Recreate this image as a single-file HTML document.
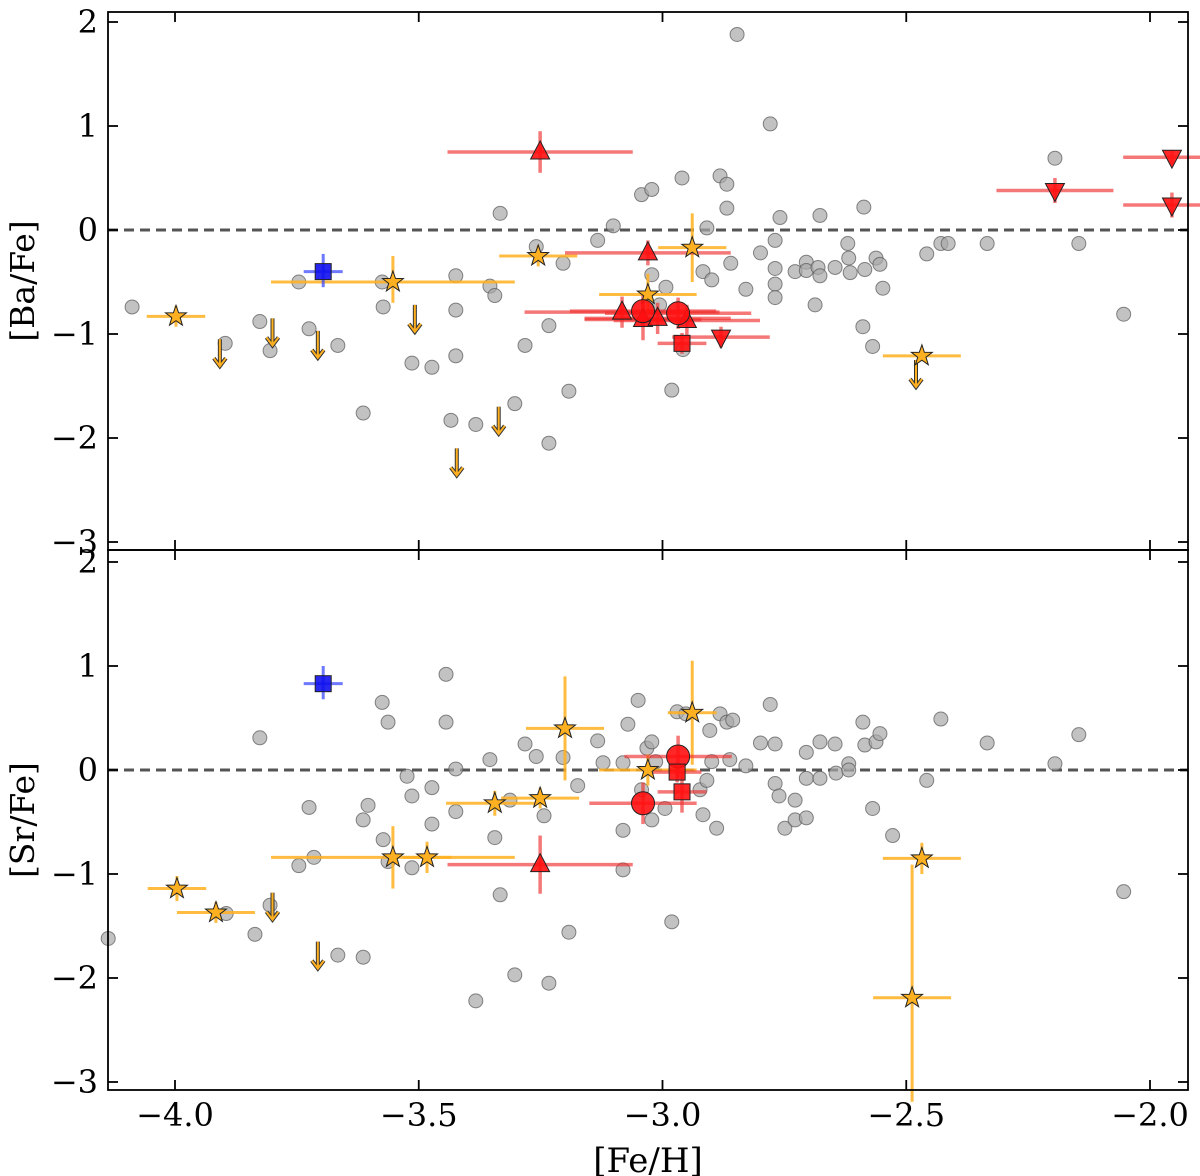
<!DOCTYPE html>
<html><head><meta charset="utf-8"><style>
body{margin:0;background:#fff}
svg{display:block;font-family:"DejaVu Serif","Liberation Serif",serif}
</style></head><body>
<svg id="chart" width="1200" height="1176" viewBox="0 0 1200 1176" xmlns="http://www.w3.org/2000/svg"></svg>
<script>
// ---- data ----
const grayBaX=[-4.088,-3.897,-3.826,-3.805,-3.746,-3.725,-3.666,-3.614,-3.575,-3.573,-3.514,-3.473,-3.424,-3.424,-3.424,-3.434,-3.383,-3.354,-3.344,-3.333,-3.303,-3.282,-3.259,-3.233,-3.233,-3.204,-3.192,-3.133,-3.101,-3.043,-3.022,-3.022,-3.006,-2.993,-2.981,-2.960,-2.958,-2.917,-2.899,-2.909,-2.882,-2.868,-2.868,-2.860,-2.847,-2.829,-2.799,-2.779,-2.769,-2.769,-2.769,-2.769,-2.759,-2.728,-2.705,-2.705,-2.681,-2.677,-2.687,-2.677,-2.646,-2.620,-2.618,-2.615,-2.585,-2.587,-2.589,-2.569,-2.562,-2.554,-2.548,-2.458,-2.429,-2.414,-2.334,-2.195,-2.146,-2.054];
const grayBaY=[-0.74,-1.09,-0.88,-1.16,-0.50,-0.95,-1.11,-1.76,-0.50,-0.74,-1.28,-1.32,-0.44,-0.77,-1.21,-1.83,-1.87,-0.54,-0.63,0.16,-1.67,-1.11,-0.16,-2.05,-0.92,-0.32,-1.55,-0.10,0.04,0.34,0.39,-0.43,-0.72,-0.55,-1.54,0.50,-1.15,-0.40,-0.48,0.02,0.52,0.44,0.21,-0.32,1.88,-0.57,-0.22,1.02,-0.10,-0.37,-0.52,-0.65,0.12,-0.40,-0.31,-0.39,-0.36,-0.44,-0.72,0.14,-0.36,-0.13,-0.27,-0.41,-0.38,0.22,-0.93,-1.12,-0.27,-0.33,-0.56,-0.23,-0.13,-0.13,-0.13,0.69,-0.13,-0.81];
const graySrX=[-4.137,-3.895,-3.836,-3.826,-3.805,-3.746,-3.725,-3.715,-3.666,-3.614,-3.604,-3.614,-3.575,-3.563,-3.573,-3.563,-3.524,-3.514,-3.514,-3.473,-3.473,-3.444,-3.444,-3.424,-3.424,-3.383,-3.354,-3.344,-3.333,-3.313,-3.303,-3.282,-3.259,-3.243,-3.233,-3.204,-3.192,-3.174,-3.133,-3.122,-3.081,-3.081,-3.081,-3.071,-3.050,-3.043,-3.032,-3.022,-3.022,-3.014,-2.995,-2.981,-2.970,-2.952,-2.923,-2.917,-2.909,-2.899,-2.889,-2.882,-2.868,-2.856,-2.903,-2.862,-2.829,-2.799,-2.779,-2.769,-2.769,-2.761,-2.749,-2.728,-2.728,-2.705,-2.705,-2.705,-2.677,-2.677,-2.646,-2.644,-2.618,-2.618,-2.589,-2.585,-2.569,-2.562,-2.554,-2.528,-2.458,-2.429,-2.334,-2.195,-2.146,-2.054];
const graySrY=[-1.62,-1.38,-1.58,0.31,-1.30,-0.92,-0.36,-0.84,-1.78,-0.48,-0.34,-1.80,0.65,0.46,-0.67,-0.88,-0.06,-0.25,-0.94,-0.17,-0.52,0.92,0.46,0.01,-0.40,-2.22,0.10,-0.65,-1.20,-0.29,-1.97,0.25,0.13,-0.44,-2.05,0.12,-1.56,-0.15,0.28,0.07,0.07,-0.58,-0.96,0.44,0.67,-0.19,0.21,0.27,-0.48,0.08,-0.37,-1.46,0.56,0.54,-0.19,-0.43,-0.10,0.08,-0.56,0.54,0.46,0.48,0.38,0.10,0.04,0.26,0.63,0.25,-0.13,-0.25,-0.56,-0.29,-0.48,0.17,-0.08,-0.46,-0.08,0.27,0.25,-0.03,0.06,0.00,0.46,0.24,-0.37,0.27,0.35,-0.63,-0.10,0.49,0.26,0.06,0.34,-1.17];
// stars: x, y, xerr-, xerr+, yerr-, yerr+
const starBa=[[-3.998,-0.83,0.06,0.06,0.1,0.1],[-3.553,-0.50,0.25,0.25,0.2,0.25],[-3.255,-0.25,0.08,0.08,0.1,0.1],[-3.030,-0.62,0.1,0.1,0.2,0.2],[-2.939,-0.17,0.07,0.07,0.33,0.33],[-2.468,-1.21,0.08,0.08,0.05,0.05]];
const starSr=[[-3.996,-1.14,0.06,0.06,0.12,0.12],[-3.916,-1.37,0.08,0.08,0.1,0.1],[-3.553,-0.84,0.25,0.25,0.3,0.3],[-3.483,-0.84,0.05,0.05,0.15,0.15],[-3.344,-0.32,0.1,0.1,0.12,0.12],[-3.251,-0.27,0.08,0.08,0.1,0.1],[-3.200,0.40,0.08,0.08,0.5,0.5],[-3.030,0.00,0.1,0.1,0.15,0.15],[-2.939,0.55,0.05,0.05,0.5,0.5],[-2.468,-0.85,0.08,0.08,0.15,0.15],[-2.488,-2.19,0.08,0.08,1.0,1.28]];
const limBa=[[-3.908,-1.05],[-3.800,-0.85],[-3.707,-0.97],[-3.508,-0.72],[-3.336,-1.70],[-3.422,-2.10],[-2.480,-1.25]];
const limSr=[[-3.800,-1.18],[-3.707,-1.65]];
// red: type, x, y, xerr, yerr
const redBa=[["tu",-3.251,0.75,0.19,0.2],["tu",-3.030,-0.22,0.17,0.12],["tu",-3.083,-0.79,0.2,0.15],["tu",-3.040,-0.86,0.12,0.2],["tu",-3.010,-0.85,0.15,0.15],["tu",-2.950,-0.87,0.15,0.15],["c",-3.040,-0.78,0.15,0.15],["c",-2.968,-0.80,0.15,0.15],["s",-2.960,-1.09,0.05,0.1],["td",-2.880,-1.03,0.1,0.1],["td",-2.195,0.38,0.12,0.12],["td",-1.955,0.70,0.1,0.07],["td",-1.955,0.24,0.1,0.12]];
const redSr=[["tu",-3.251,-0.91,0.19,0.28],["c",-3.040,-0.32,0.11,0.2],["c",-2.968,0.13,0.11,0.2],["s",-2.960,-0.21,0.05,0.2],["s",-2.970,-0.02,0.05,0.1]];
const blueBa=[-3.696,-0.40];
const blueSr=[-3.696,0.83];
const xTicks=[-4.0,-3.5,-3.0,-2.5,-2.0];
const xTickLabels=["\u22124.0","\u22123.5","\u22123.0","\u22122.5","\u22122.0"];
const yTicks=[2,1,0,-1,-2,-3];
const yTickLabels=["2","1","0","\u22121","\u22122","\u22123"];

const NS="http://www.w3.org/2000/svg";
const svg=document.getElementById('chart');
const L=108,R=1188;
const X=v=>175+(v+4)*487.5;
function mk(tag,at,parent){const e=document.createElementNS(NS,tag);for(const k in at)e.setAttribute(k,at[k]);(parent||svg).appendChild(e);return e;}

function panel(name,top,bottom,Y,gx,gy,stars,lims,reds,blue,ylab){
  const g=mk('g',{});
  
  
  const z=mk('line',{x1:L,x2:R,y1:Y(0),y2:Y(0),stroke:'#555','stroke-width':3,'stroke-dasharray':'10,6'},g);
  
  
  for(let i=0;i<gx.length;i++){
    const c=mk('circle',{cx:X(gx[i]),cy:Y(gy[i]),r:7,fill:'#a8a8a8','fill-opacity':0.7,stroke:'#555','stroke-opacity':0.7,'stroke-width':1},g);
    
    
  }
  for(const s of stars){
    const e=mk('g',{stroke:'#ffb020','stroke-opacity':0.85,'stroke-width':3},g);
    
    
    mk('line',{x1:X(s[0]-s[2]),x2:X(s[0]+s[3]),y1:Y(s[1]),y2:Y(s[1])},e);
    mk('line',{x1:X(s[0]),x2:X(s[0]),y1:Y(s[1]-s[4]),y2:Y(s[1]+s[5])},e);
  }
  for(const r of reds){
    const e=mk('g',{stroke:'#f03030','stroke-opacity':0.65,'stroke-width':3.5},g);
    
    
    mk('line',{x1:X(r[1]-r[3]),x2:X(r[1]+r[3]),y1:Y(r[2]),y2:Y(r[2])},e);
    mk('line',{x1:X(r[1]),x2:X(r[1]),y1:Y(r[2]-r[4]),y2:Y(r[2]+r[4])},e);
  }
  for(const a of lims){
    const x=X(a[0]),y=Y(a[1]);
    const p=mk('path',{d:`M${x} ${y}V${y+26}M${x-6} ${y+19}L${x} ${y+27}L${x+6} ${y+19}`,stroke:'#333',fill:'none','stroke-width':4},g);
    
    
    const q=mk('path',{d:`M${x} ${y}V${y+26}M${x-6} ${y+19}L${x} ${y+27}L${x+6} ${y+19}`,stroke:'#ffb020',fill:'none','stroke-width':2},g);
    
    
  }
  for(const s of stars){
    const cx=X(s[0]),cy=Y(s[1]);let d='';
    for(let k=0;k<10;k++){const r=k%2?4.4:11,a=-Math.PI/2+k*Math.PI/5;d+=(k?'L':'M')+(cx+r*Math.cos(a)).toFixed(1)+' '+(cy+r*Math.sin(a)).toFixed(1);}
    const p=mk('path',{d:d+'Z',fill:'#ffb020',stroke:'#222','stroke-width':1},g);
    
    
  }
  for(const r of reds){
    const cx=X(r[1]),cy=Y(r[2]);let m;
    const st={fill:'#ff1010','fill-opacity':0.9,stroke:'#222','stroke-width':1};
    if(r[0]==='c') m=mk('circle',Object.assign({cx,cy,r:11.5},st),g);
    else if(r[0]==='s') m=mk('rect',Object.assign({x:cx-8,y:cy-8,width:16,height:16},st),g);
    else if(r[0]==='tu') m=mk('path',Object.assign({d:`M${cx} ${cy-11}L${cx+9.5} ${cy+7}L${cx-9.5} ${cy+7}Z`},st),g);
    else m=mk('path',Object.assign({d:`M${cx} ${cy+11}L${cx+9.5} ${cy-7}L${cx-9.5} ${cy-7}Z`},st),g);
    
    
  }
  const bx=X(blue[0]),by=Y(blue[1]);
  const be=mk('g',{stroke:'#3040ff','stroke-opacity':0.7,'stroke-width':3},g);
  
  
  mk('line',{x1:X(blue[0]-0.04),x2:X(blue[0]+0.04),y1:by,y2:by},be);
  mk('line',{x1:bx,x2:bx,y1:Y(blue[1]-0.15),y2:Y(blue[1]+0.17)},be);
  const b=mk('rect',{x:bx-8,y:by-8,width:16,height:16,fill:'#1010ee','fill-opacity':0.9,stroke:'#222','stroke-width':1},g);
  
  
  const f=mk('rect',{x:L,y:top,width:R-L,height:bottom-top,fill:'none',stroke:'#000','stroke-width':1.8},g);
  
  
  yTicks.forEach((t,i)=>{
    const y=Y(t);
    mk('line',{x1:L,x2:L+10,y1:y,y2:y,stroke:'#000','stroke-width':1.8},g);
    mk('line',{x1:R,x2:R-10,y1:y,y2:y,stroke:'#000','stroke-width':1.8},g);
    const tx=mk('text',{x:L-10,y:y+11,'text-anchor':'end','font-size':32},g);
    tx.textContent=yTickLabels[i];
    
    
  });
  xTicks.forEach(t=>{
    const x=X(t);
    mk('line',{x1:x,x2:x,y1:bottom,y2:bottom-10,stroke:'#000','stroke-width':1.8},g);
    mk('line',{x1:x,x2:x,y1:top,y2:top+10,stroke:'#000','stroke-width':1.8},g);
  });
  const yl=mk('text',{x:0,y:0,transform:`translate(34,${(top+bottom)/2}) rotate(-90)`,'text-anchor':'middle','font-size':33},g);
  yl.textContent=ylab;
  
  
}
panel('ba',12,550,v=>230-v*104,grayBaX,grayBaY,starBa,limBa,redBa,blueBa,'[Ba/Fe]');
panel('sr',550,1090,v=>770-v*104,graySrX,graySrY,starSr,limSr,redSr,blueSr,'[Sr/Fe]');
xTicks.forEach((t,i)=>{
  const tx=mk('text',{x:X(t),y:1126,'text-anchor':'middle','font-size':32});
  tx.textContent=xTickLabels[i];
  
  
});
const xl=mk('text',{x:648,y:1172,'text-anchor':'middle','font-size':34});
xl.textContent='[Fe/H]';


</script>
</body></html>
